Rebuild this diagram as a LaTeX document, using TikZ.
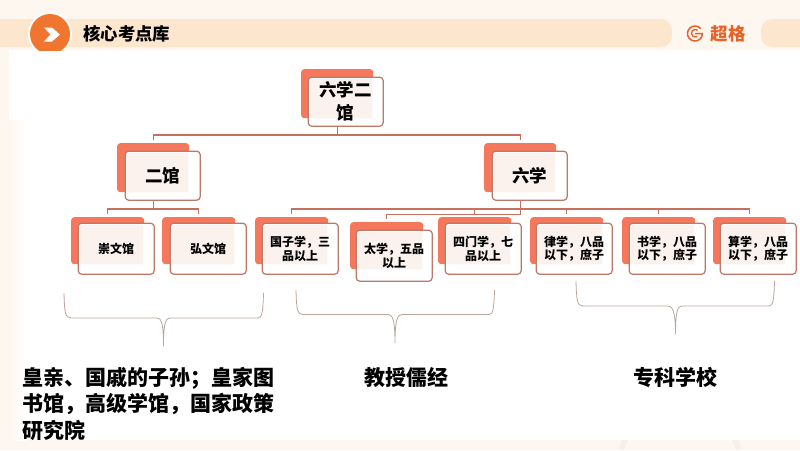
\documentclass[tikz,border=0pt]{standalone}
\usepackage{fontspec}
\newfontfamily\cjk{Noto Sans CJK SC}
\pgfdeclarelayer{bgl}
\pgfdeclarelayer{conn}
\pgfsetlayers{bgl,conn,main}
\definecolor{cream}{HTML}{FEF7F0}
\definecolor{barc}{HTML}{FDE6CE}
\definecolor{oran}{HTML}{F0752E}
\definecolor{logoc}{HTML}{EA6128}
\definecolor{backc}{HTML}{F6785C}
\definecolor{edgec}{HTML}{BC7868}
\definecolor{linkc}{HTML}{C8705E}
\definecolor{pinkc}{HTML}{FBF2EE}
\definecolor{bracec}{HTML}{BBA69C}
\definecolor{markc}{HTML}{F8EFE8}
\tikzset{
  x=1pt,y=-1pt,
  backbox/.style={anchor=north west,fill=backc,draw=none,rounded corners=3pt,inner sep=0pt,text width=0pt},
  frontfill/.style={anchor=north west,fill=white,draw=none,rounded corners=3.5pt,inner sep=0pt},
  frontline/.style={draw=edgec,line width=1.2pt,rounded corners=3.5pt,inner sep=0pt,align=center,text=black},
  bigtext/.style={font=\cjk\bfseries\fontsize{17.5}{23}\selectfont},
  smalltext/.style={font=\cjk\bfseries\fontsize{12}{13.6}\selectfont},
  link/.style={draw=linkc,line width=1.4pt,shorten >=3pt},
  curly/.style={draw=bracec,line width=0.8pt},
  caption/.style={anchor=west,inner sep=0pt,text=black,font=\cjk\bfseries\fontsize{21}{26.5}\selectfont},
}
\def\setsizes#1#2#3#4{\def\fW{#1}\def\fH{#2}\def\bW{#3}\def\bH{#4}}
\newcommand{\orgbox}[7][smalltext]{%
  \node[backbox,minimum width=\bW pt,minimum height=\bH pt] (#2b) at (#5,#6) {};
  \node[frontfill,minimum width=\fW pt,minimum height=\fH pt] (#2) at (#3,#4) {};
  \fill[pinkc,rounded corners=2pt] ([xshift=2pt,yshift=-2pt]#2.north west) rectangle ([xshift=-1pt]#2b.south east);
  \node[frontline,#1,minimum width=\fW pt,minimum height=\fH pt] (#2t) at (#2.center) {#7};
}
\begin{document}
\begin{tikzpicture}
\useasboundingbox (0,0) rectangle (800,450);
% page
\begin{pgfonlayer}{bgl}
\fill[cream] (0,0) rectangle (800,450);
\fill[white] (9,50) rectangle (800,440);
\shade[left color=cream,right color=white] (9,120) rectangle (26,440);
\fill[markc] (618,450) -- (622,440) -- (628,440) -- (624,450) -- cycle;
\fill[markc] (742,450) -- (738,440) -- (732,440) -- (736,450) -- cycle;
\end{pgfonlayer}
% header
\fill[barc,rounded corners=11pt] (-30,19) rectangle (672,47);
\fill[barc,rounded corners=11pt] (761,19) rectangle (830,47);
\begin{scope}
  \clip (0,0) rectangle (800,50);
  \fill[white!70!cream] (50,34) circle (22);
  \fill[oran] (50,34) circle (20);
\end{scope}
\fill[white] (44,27.5) -- (52,27.5) -- (60,34.5) -- (52,41.5) -- (44,41.5) -- (50.5,34.5) -- cycle;
\node[anchor=west,inner sep=0pt,font=\cjk\bfseries\fontsize{17.4}{17.4}\selectfont] (title) at (83,34) {核心考点库};
\draw[logoc,line width=1.5pt] (700.7,28.7) arc[start angle=-40,end angle=-360,radius=7.5] -- (695,33.5);
\draw[logoc,line width=1.3pt] (697.7,30.3) arc[start angle=-50,end angle=-300,radius=3.8];
\node[anchor=west,inner sep=0pt,text=logoc,font=\cjk\bfseries\fontsize{17.5}{17.5}\selectfont] (logo) at (710.5,33.5) {超格};
% boxes
\setsizes{75}{49}{72}{49}
\orgbox[bigtext]{top}{308}{77}{301}{69}{六学二\\馆}
\orgbox[bigtext]{er}{125}{151}{117}{143}{二馆}
\orgbox[bigtext]{liu}{492}{151}{484}{143}{六学}
\setsizes{76}{51}{73}{47}
\orgbox{cw}{78}{223}{71}{217}{崇文馆}
\orgbox{hw}{170}{223}{162}{217}{弘文馆}
\orgbox{gz}{262}{223}{255}{217}{国子学，三\\品以上}
\orgbox{tx}{356}{230}{350}{222}{太学，五品\\以上}
\orgbox{sm}{445}{223}{438}{217}{四门学，七\\品以上}
\orgbox{lx}{536}{223}{530}{217}{律学，八品\\以下，庶子}
\orgbox{sx}{629}{223}{622}{217}{书学，八品\\以下，庶子}
\orgbox{sf}{720}{223}{713}{217}{算学，八品\\以下，庶子}
% connectors
\begin{pgfonlayer}{conn}
\draw[link] (topb.south) -- ++(0,16.5) -| (erb.north);
\draw[link] (topb.south) -- ++(0,16.5) -| (liub.north);
\draw[link] (erb.south) -- ++(0,16.5) -| (cwb.north);
\draw[link] (erb.south) -- ++(0,16.5) -| (hwb.north);
\draw[link] (liub.south) -- ++(0,16.5) -| (gzb.north);
\draw[link] (liub.south) -- ++(0,22) -| (txb.north);
\draw[link] (liub.south) -- ++(0,16.5) -| (smb.north);
\draw[link] (liub.south) -- ++(0,16.5) -| (lxb.north);
\draw[link] (liub.south) -- ++(0,16.5) -| (sxb.north);
\draw[link] (liub.south) -- ++(0,16.5) -| (sfb.north);
\end{pgfonlayer}
% braces
\draw[curly] (64,293) .. controls (64.5,312) and (65,318) .. (71,318) -- (157,318) .. controls (161,318) and (163.5,322) .. (163.5,346) .. controls (163.5,322) and (166,318) .. (170,318) -- (258,318) .. controls (262,318) and (263,312) .. (263.5,293);
\draw[curly] (296,290) .. controls (296.5,309) and (297,314.5) .. (303,314.5) -- (388,314.5) .. controls (392,314.5) and (395,318) .. (395,343) .. controls (395,318) and (398,314.5) .. (402,314.5) -- (489,314.5) .. controls (493,314.5) and (494,309) .. (494.5,290);
\draw[curly] (576,281) .. controls (576.5,300) and (577,306) .. (583,306) -- (668,306) .. controls (672,306) and (675.5,310) .. (675.5,334) .. controls (675.5,310) and (678,306) .. (682,306) -- (769,306) .. controls (773,306) and (774,300) .. (774.5,281);
% captions
\node[caption,align=left,anchor=north west] (capa) at (22,367) {皇亲、国戚的子孙；皇家图\\书馆，高级学馆，国家政策\\研究院};
\node[caption] (capb) at (364,377) {教授儒经};
\node[caption] (capc) at (633,377) {专科学校};
\end{tikzpicture}
\end{document}
